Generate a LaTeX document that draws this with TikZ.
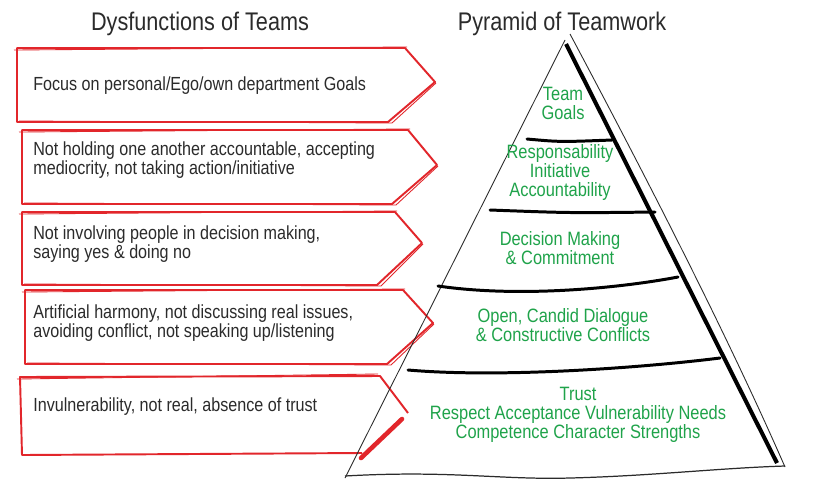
\documentclass[tikz,border=0pt]{standalone}
\usepackage{fontspec}
\setmainfont{Liberation Sans}[FakeStretch=0.85]
\definecolor{dysred}{HTML}{E2262B}
\definecolor{tgreen}{HTML}{1FA34A}
\definecolor{inkgray}{HTML}{2B2B2B}

\begin{document}
\begin{tikzpicture}[
    x=0.02cm, y=-0.02cm,
    dysline/.style={draw=dysred, line width=1.1pt, line join=round},
    sketch/.style={draw=dysred, line width=0.5pt},
    title/.style={font=\fontsize{14.5}{16}\selectfont, text=inkgray},
    dystext/.style={font=\fontsize{10.8}{10.3}\selectfont, text=inkgray, align=left, inner sep=0pt},
    teamtext/.style={font=\fontsize{11}{10.6}\selectfont, text=tgreen, align=center, inner sep=0pt},
    thin/.style={draw=inkgray, line width=0.5pt},
    divider/.style={draw=black, line width=1.7pt, line cap=round},
  ]
  \useasboundingbox[fill=white] (0,0) rectangle (830,484);

  % ----- titles -----
  \node[title] (dystitle) at (200,24) {Dysfunctions of Teams};
  \node[title] (pyrtitle) at (562,24) {Pyramid of Teamwork};

  % ----- red arrow boxes (left, top, bottom, top right, tip x, tip y, bottom right) -----
  \foreach \l/\t/\b/\tr/\tx/\ty/\br in {17/48/122/405/435/82/388, 22/130/204/408/437/165/392,
      22/212/285/395/422/243/377, 25/290/364/403/433/323/387}{
    \draw[dysline] (\l,\t) -- (\tr,\t) -- (\tx,\ty) -- (\br,\b) -- (\l,\b) -- cycle;
    \draw[sketch] (\l-3,\t+2) -- (\tr+2,\t-1) (\tx+1,\ty+1) -- (\br+4,\b+1) -- (\l+2,\b-1);
  }
  % last box, broken at its tip
  \draw[dysline] (408,413) -- (380,376) -- (20,377) -- (22,455) -- (362,453);
  \draw[sketch] (17,379) -- (378,374);
  \draw[draw=dysred, line width=2.6pt, line cap=round] (402,419) -- (361,458);

  % ----- dysfunction texts (base = last line) -----
  \node[dystext, anchor=base west] (ego) at (33,90) {Focus on personal/Ego/own department Goals};
  \node[dystext, anchor=base west] (accnt) at (33,174) {Not holding one another accountable, accepting\\mediocrity, not taking action/initiative};
  \node[dystext, anchor=base west] (decide) at (33,258) {Not involving people in decision making,\\saying yes \& doing no};
  \node[dystext, anchor=base west] (harmony) at (33,337) {Artificial harmony, not discussing real issues,\\avoiding conflict, not speaking up/listening};
  \node[dystext, anchor=base west] (invuln) at (33,411) {Invulnerability, not real, absence of trust};

  % ----- pyramid outline -----
  \coordinate (apex) at (565,40);
  \draw[thin] (apex) -- (345,478);
  \draw[draw=black, line width=2.3pt] (566,44) -- (777,463);
  \draw[thin] (570,34) .. controls (645,175) and (725,330) .. (785,467);
  \draw[thin, line width=0.7pt] (345,476) .. controls (450,470) and (500,480) .. (570,478)
    .. controls (650,476) and (720,468) .. (785,466);

  % ----- levels -----
  \draw[divider] (527,139) .. controls (560,142) .. (612,140);
  \draw[divider] (490,210) .. controls (570,213) .. (655,212);
  \draw[divider] (438,286) .. controls (520,298) and (620,288) .. (678,277);
  \draw[divider] (408,370) .. controls (500,378) and (640,368) .. (720,358);

  % ----- teamwork texts (base = last line) -----
  \node[teamtext, anchor=base] (goals) at (563,119) {Team\\Goals};
  \node[teamtext, anchor=base] (respons) at (560,196) {Responsability\\Initiative\\Accountability};
  \node[teamtext, anchor=base] (commit) at (560,264) {Decision Making\\\& Commitment};
  \node[teamtext, anchor=base] (dialog) at (563,341) {Open, Candid Dialogue\\\& Constructive Conflicts};
  \node[teamtext, anchor=base] (trust) at (578,438) {Trust\\Respect Acceptance Vulnerability Needs\\Competence Character Strengths};
\end{tikzpicture}
\end{document}
